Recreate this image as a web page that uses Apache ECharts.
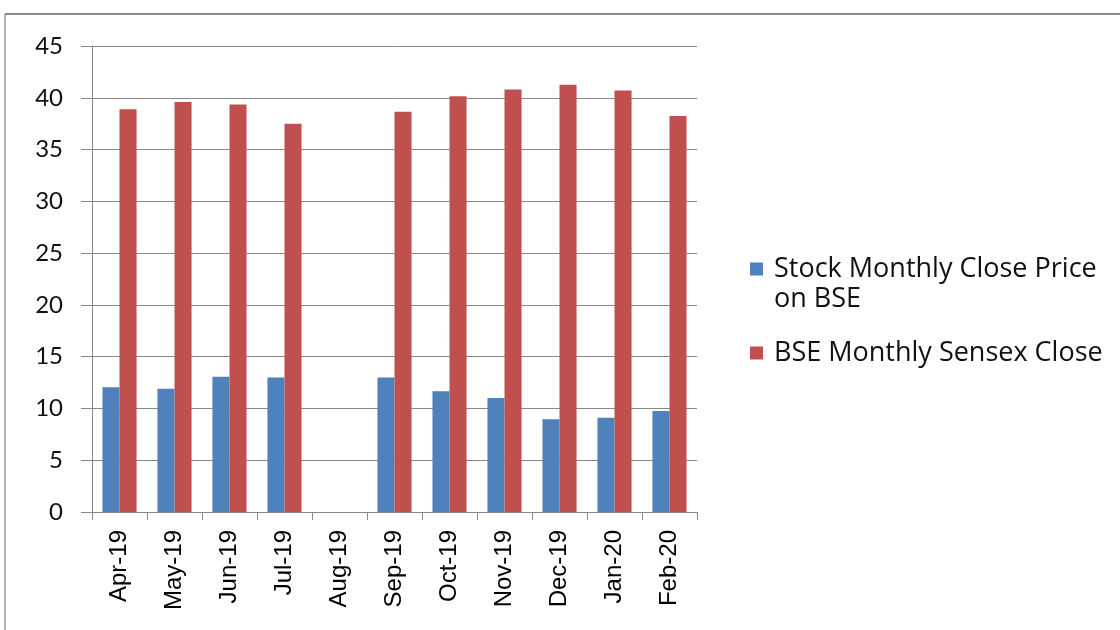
<!DOCTYPE html>
<html><head><meta charset="utf-8">
<script src="https://cdn.jsdelivr.net/npm/echarts@6/dist/echarts.min.js"></script>
<style>html,body{margin:0;padding:0;background:#fff}#c{width:1120px;height:630px}</style>
</head><body><div id="c"></div>
<script>
const categories = ['Apr-19','May-19','Jun-19','Jul-19','Aug-19','Sep-19','Oct-19','Nov-19','Dec-19','Jan-20','Feb-20'];
const stockClose = [12.05, 11.9, 13.05, 13.0, null, 13.0, 11.65, 11.0, 8.95, 9.1, 9.75];
const sensexClose = [38.9, 39.6, 39.35, 37.5, null, 38.65, 40.15, 40.8, 41.25, 40.7, 38.25];
const seriesNames = ['Stock Monthly Close Price on BSE', 'BSE Monthly Sensex Close'];
const yTicks = {min: 0, max: 45, interval: 5};

const chart = echarts.init(document.getElementById('c'));
const font = 'Liberation Sans, Arial, sans-serif';
const lfont = 'Lato, Open Sans, sans-serif';
chart.setOption({
  animation: false,
  backgroundColor: '#fff',
  graphic: [
    {type: 'line', shape: {x1: 5, y1: 14, x2: 1120, y2: 14}, style: {stroke: '#8a8a8a', lineWidth: 2}},
    {type: 'line', shape: {x1: 5, y1: 14, x2: 5, y2: 630}, style: {stroke: '#9a9a9a', lineWidth: 1.5}}
  ],
  grid: {left: 92, top: 46, width: 605, height: 466, containLabel: false},
  legend: {
    orient: 'vertical', left: 750, top: 224, itemWidth: 13, itemHeight: 13, itemGap: 24,
    icon: 'rect', padding: 0,
    textStyle: {fontFamily: 'Open Sans, sans-serif', fontSize: 27, color: '#111', lineHeight: 30, padding: [0, 0, 0, 6]},
    formatter: function (n) { return n === seriesNames[0] ? ' \nStock Monthly Close Price\non BSE' : n; },
    data: seriesNames
  },
  xAxis: {
    type: 'category', data: categories,
    axisLine: {lineStyle: {color: '#888', width: 1}},
    axisTick: {show: true, length: 8, lineStyle: {color: '#888'}},
    axisLabel: {rotate: 90, interval: 0, fontFamily: font, fontSize: 24, color: '#000', margin: 18}
  },
  yAxis: {
    type: 'value', min: yTicks.min, max: yTicks.max, interval: yTicks.interval,
    axisLine: {show: true, lineStyle: {color: '#888'}},
    axisTick: {show: true, length: 11, lineStyle: {color: '#888'}},
    splitLine: {lineStyle: {color: '#888', width: 1}},
    axisLabel: {fontFamily: lfont, fontSize: 24, color: '#111', margin: 29}
  },
  series: [
    {name: seriesNames[0], type: 'bar', data: stockClose, barGap: '0%', barCategoryGap: '38%', itemStyle: {color: '#4F81BD'}},
    {name: seriesNames[1], type: 'bar', data: sensexClose, itemStyle: {color: '#C0504D'}}
  ]
});
</script></body></html>
